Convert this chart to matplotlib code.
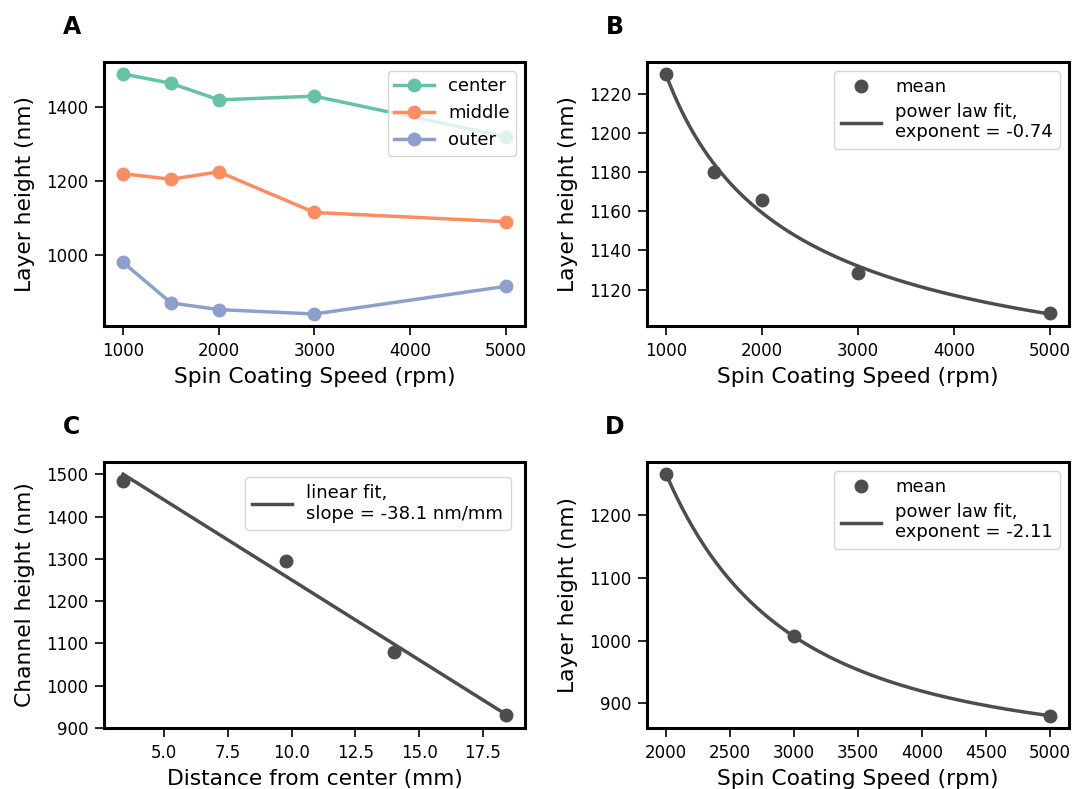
import numpy as np
import matplotlib
matplotlib.use("Agg")
import matplotlib.pyplot as plt

# spin coating speeds (rpm) and layer heights (nm) at three radial positions
speeds = [1000, 1500, 2000, 3000, 5000]
center = [1490, 1465, 1420, 1430, 1320]
middle = [1220, 1205, 1225, 1115, 1090]
outer = [980, 870, 852, 840, 915]
exp_b = -0.74

# channel height vs distance from center
distance = [3.4, 9.8, 14.0, 18.4]
channel = [1485, 1295, 1080, 930]

# second batch
speeds_d = [2000, 3000, 5000]
height_d = [1265, 1007, 880]
exp_d = -2.11

fit_col = '#4d4d4d'
set2 = ['#66c2a5', '#fc8d62', '#8da0cb']

plt.rcParams['font.family'] = 'DejaVu Sans'
plt.rcParams['xtick.labelsize'] = 12
plt.rcParams['ytick.labelsize'] = 12
plt.rcParams['axes.labelsize'] = 15.7
plt.rcParams['axes.labelpad'] = 5
plt.rcParams['axes.linewidth'] = 2.2
plt.rcParams['xtick.major.width'] = 1.2
plt.rcParams['ytick.major.width'] = 1.2
plt.rcParams['xtick.major.size'] = 6.5
plt.rcParams['ytick.major.size'] = 6.5
plt.rcParams['xtick.major.pad'] = 5
plt.rcParams['ytick.major.pad'] = 5
plt.rcParams['legend.fontsize'] = 13


def powerfit(x, y, b, xs):
    # least squares for a*x^b + c with fixed exponent
    x = np.asarray(x, float)
    A = np.column_stack([x ** b, np.ones_like(x)])
    a, c = np.linalg.lstsq(A, np.asarray(y, float), rcond=None)[0]
    return a * xs ** b + c


fig = plt.figure(figsize=(10.73, 7.89), dpi=100)
axA = fig.add_axes([0.0969, 0.5868, 0.3924, 0.3346])
axB = fig.add_axes([0.603, 0.5868, 0.3933, 0.3346])
axC = fig.add_axes([0.0969, 0.0773, 0.3924, 0.337])
axD = fig.add_axes([0.603, 0.0773, 0.3933, 0.337])

# A
for vals, lab, col in zip([center, middle, outer], ['center', 'middle', 'outer'], set2):
    axA.plot(speeds, vals, '-o', color=col, lw=2.5, ms=9, label=lab)
axA.set_xlabel("Spin Coating Speed (rpm)")
axA.set_ylabel("Layer height (nm)", labelpad=8)
axA.set_xticks([1000, 2000, 3000, 4000, 5000])
axA.set_yticks([1000, 1200, 1400])
axA.legend(loc='upper right', handlelength=2.2, borderpad=0.35, labelspacing=0.5)

# B
mean = np.mean([center, middle, outer], axis=0)
xs = np.linspace(1000, 5000, 200)
axB.plot(speeds, mean, 'o', color=fit_col, ms=9, label='mean')
axB.plot(xs, powerfit(speeds, mean, exp_b, xs), color=fit_col, lw=2.5,
         label='power law fit,\nexponent = %.2f' % exp_b)
axB.set_xlabel("Spin Coating Speed (rpm)")
axB.set_ylabel("Layer height (nm)", labelpad=8)
axB.set_xticks([1000, 2000, 3000, 4000, 5000])
axB.legend(loc='upper right', handlelength=2.2, labelspacing=0.35)

# C
p = np.polyfit(distance, channel, 1)
xl = np.array([min(distance), max(distance)])
axC.plot(distance, channel, 'o', color=fit_col, ms=9)
axC.plot(xl, np.polyval(p, xl), color=fit_col, lw=2.5,
         label='linear fit,\nslope = %.1f nm/mm' % -38.1)
axC.set_xlabel("Distance from center (mm)")
axC.set_ylabel("Channel height (nm)", labelpad=8)
axC.set_xticks([5.0, 7.5, 10.0, 12.5, 15.0, 17.5])
axC.set_yticks([900, 1000, 1100, 1200, 1300, 1400, 1500])
axC.legend(loc='upper right', handlelength=2.2, borderaxespad=0.8)

# D
xs = np.linspace(2000, 5000, 200)
axD.plot(speeds_d, height_d, 'o', color=fit_col, ms=9, label='mean')
axD.plot(xs, powerfit(speeds_d, height_d, exp_d, xs), color=fit_col, lw=2.5,
         label='power law fit,\nexponent = %.2f' % exp_d)
axD.set_xlabel("Spin Coating Speed (rpm)")
axD.set_ylabel("Layer height (nm)", labelpad=8)
axD.set_yticks([900, 1000, 1100, 1200])
axD.legend(loc='upper right', handlelength=2.2, labelspacing=0.35)

for ax, letter in zip([axA, axB, axC, axD], 'ABCD'):
    ax.text(-0.076, 1.133, letter, transform=ax.transAxes, fontsize=17,
            fontweight='bold', ha='center', va='center')

fig.savefig("out.png", dpi=100)
